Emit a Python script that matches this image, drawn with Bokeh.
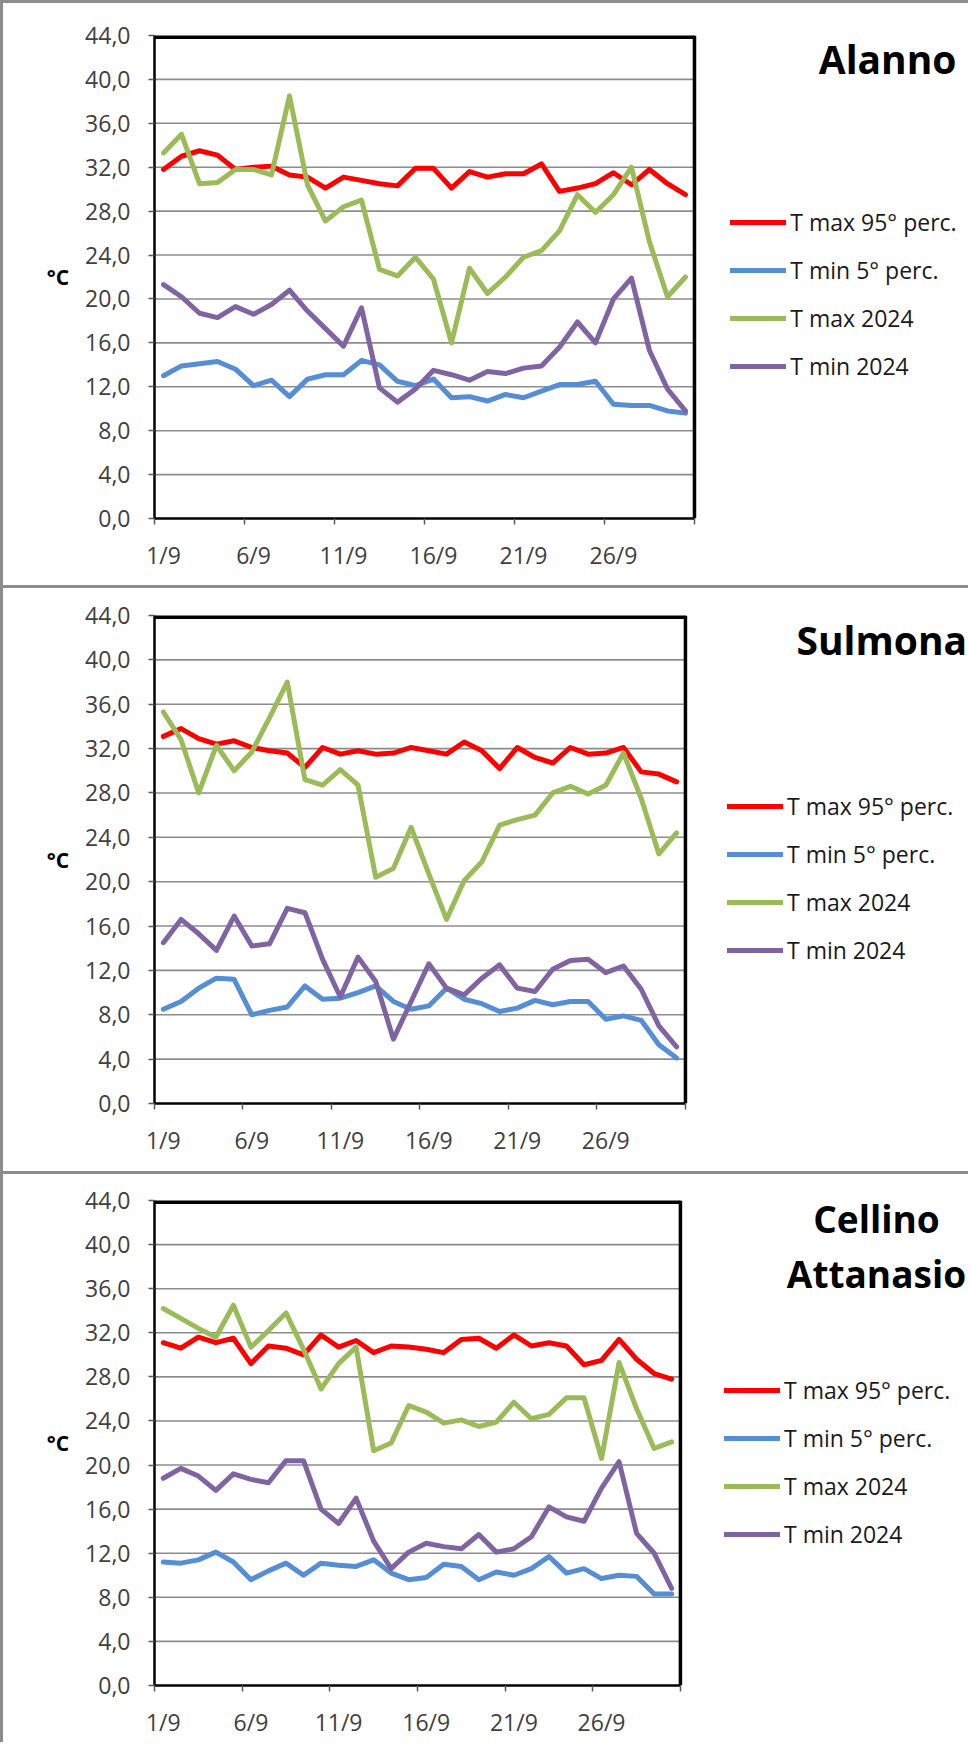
from bokeh.plotting import figure
from bokeh.models import Range1d, FixedTicker, Label, Legend, LegendItem
from bokeh.layouts import column
from bokeh.embed import file_html
from bokeh.resources import INLINE

# ---------------- data ----------------
days = list(range(1, 31))
x_label_days = [1, 6, 11, 16, 21, 26]
x_labels = ["1/9", "6/9", "11/9", "16/9", "21/9", "26/9"]
y_ticks = [0, 4, 8, 12, 16, 20, 24, 28, 32, 36, 40, 44]
y_tick_labels = ["0,0", "4,0", "8,0", "12,0", "16,0", "20,0", "24,0", "28,0", "32,0", "36,0", "40,0", "44,0"]
series_names = ["T max 95° perc.", "T min 5° perc.", "T max 2024", "T min 2024"]

alanno_tmax95 = [31.8, 33.0, 33.5, 33.1, 31.8, 32.0, 32.1, 31.3, 31.1, 30.1, 31.1, 30.8, 30.5, 30.3, 31.9,
                 31.9, 30.1, 31.6, 31.1, 31.4, 31.4, 32.3, 29.8, 30.1, 30.5, 31.5, 30.4, 31.8, 30.5, 29.5]
alanno_tmin5 = [13.0, 13.9, 14.1, 14.3, 13.6, 12.1, 12.6, 11.1, 12.7, 13.1, 13.1, 14.4, 14.0, 12.5, 12.1,
                12.7, 11.0, 11.1, 10.7, 11.3, 11.0, 11.6, 12.2, 12.2, 12.5, 10.4, 10.3, 10.3, 9.8, 9.6]
alanno_tmax2024 = [33.3, 35.0, 30.5, 30.6, 31.8, 31.8, 31.3, 38.5, 30.4, 27.1, 28.4, 29.0, 22.7, 22.1, 23.8,
                   21.8, 16.0, 22.8, 20.5, 22.0, 23.8, 24.4, 26.2, 29.5, 27.9, 29.5, 32.0, 25.2, 20.2, 22.0]
alanno_tmin2024 = [21.3, 20.2, 18.7, 18.3, 19.3, 18.6, 19.5, 20.8, 18.9, 17.3, 15.7, 19.2, 11.9, 10.6, 11.8,
                   13.5, 13.1, 12.6, 13.4, 13.2, 13.7, 13.9, 15.6, 17.9, 16.0, 20.0, 21.9, 15.3, 11.8, 9.8]

sulmona_tmax95 = [33.1, 33.8, 32.9, 32.4, 32.7, 32.1, 31.8, 31.6, 30.3, 32.1, 31.5, 31.8, 31.5, 31.6, 32.1,
                  31.8, 31.5, 32.6, 31.8, 30.2, 32.1, 31.2, 30.7, 32.1, 31.5, 31.6, 32.1, 29.9, 29.7, 29.0]
sulmona_tmin5 = [8.5, 9.2, 10.4, 11.3, 11.2, 8.0, 8.4, 8.7, 10.6, 9.4, 9.5, 10.0, 10.6, 9.2, 8.5,
                 8.8, 10.4, 9.4, 9.0, 8.3, 8.6, 9.3, 8.9, 9.2, 9.2, 7.6, 7.9, 7.5, 5.3, 4.1]
sulmona_tmax2024 = [35.3, 32.8, 28.0, 32.3, 30.0, 31.7, 34.8, 38.0, 29.2, 28.7, 30.1, 28.7, 20.4, 21.2, 24.9,
                    20.7, 16.6, 20.1, 21.8, 25.1, 25.6, 26.0, 28.0, 28.6, 27.9, 28.7, 31.6, 27.5, 22.5, 24.4]
sulmona_tmin2024 = [14.5, 16.6, 15.3, 13.8, 16.9, 14.2, 14.4, 17.6, 17.2, 13.0, 9.6, 13.2, 11.0, 5.8, 9.2,
                    12.6, 10.4, 9.8, 11.3, 12.5, 10.4, 10.1, 12.1, 12.9, 13.0, 11.8, 12.4, 10.3, 7.0, 5.1]

cellino_tmax95 = [31.1, 30.6, 31.6, 31.1, 31.5, 29.2, 30.8, 30.6, 30.0, 31.8, 30.7, 31.3, 30.2, 30.8, 30.7,
                  30.5, 30.2, 31.4, 31.5, 30.6, 31.8, 30.8, 31.1, 30.8, 29.1, 29.5, 31.4, 29.6, 28.3, 27.8]
cellino_tmin5 = [11.2, 11.1, 11.4, 12.1, 11.2, 9.6, 10.4, 11.1, 10.0, 11.1, 10.9, 10.8, 11.4, 10.2, 9.6,
                 9.8, 11.0, 10.8, 9.6, 10.3, 10.0, 10.6, 11.7, 10.2, 10.6, 9.7, 10.0, 9.9, 8.3, 8.3]
cellino_tmax2024 = [34.2, 33.3, 32.4, 31.6, 34.5, 30.7, 32.2, 33.8, 30.5, 26.9, 29.2, 30.7, 21.3, 22.0, 25.4,
                    24.8, 23.8, 24.1, 23.5, 23.9, 25.7, 24.2, 24.6, 26.1, 26.1, 20.6, 29.3, 25.1, 21.5, 22.1]
cellino_tmin2024 = [18.8, 19.7, 19.0, 17.7, 19.2, 18.7, 18.4, 20.4, 20.4, 16.0, 14.7, 17.0, 13.1, 10.6, 12.1,
                    12.9, 12.6, 12.4, 13.7, 12.1, 12.4, 13.5, 16.2, 15.3, 14.9, 17.9, 20.3, 13.8, 12.0, 8.8]

# ---------------- style ----------------
COLORS = ["#FF0000", "#558ED5", "#9BBB59", "#8064A2"]
FONT = "Open Sans"
GRID = "#8c8c8c"
PANEL_BORDER = "#8c8c8c"
CONTENT_W = 965


def make_panel(series, titles, geom):
    x0 = days[0] - 0.5
    x1 = days[-1] + 0.5
    frame_w = CONTENT_W - geom["left"]
    # the frame also covers the legend/title area on the right of the plot area
    x_end = x0 + (x1 - x0) * frame_w / geom["pw"]
    p = figure(frame_width=frame_w, frame_height=geom["fh"],
               min_border_left=geom["left"], min_border_right=0,
               min_border_top=geom["top"], min_border_bottom=geom["bottom"],
               x_range=Range1d(x0, x_end), y_range=Range1d(y_ticks[0], y_ticks[-1]),
               output_backend="svg", toolbar_location=None, tools="")
    p.styles = {"border-left": "3px solid " + PANEL_BORDER, "border-top": "3px solid " + PANEL_BORDER,
                "box-sizing": "content-box"}
    p.background_fill_color = "white"
    p.border_fill_color = "white"
    p.outline_line_color = None
    p.xgrid.visible = False
    p.ygrid.visible = False

    # y axis
    ya = p.yaxis[0]
    ya.ticker = FixedTicker(ticks=y_ticks)
    ya.major_label_overrides = {t: l for t, l in zip(y_ticks, y_tick_labels)}
    ya.axis_line_color = "black"
    ya.axis_line_width = 2.5
    ya.major_tick_out = 6
    ya.major_tick_in = 0
    ya.major_tick_line_color = "#595959"
    ya.major_tick_line_width = 1.5
    ya.minor_tick_out = 0
    ya.minor_tick_in = 0
    ya.major_label_standoff = 18
    ya.major_label_text_font = FONT
    ya.major_label_text_font_size = "23px"
    ya.major_label_text_color = "#404040"
    ya.axis_label = "°C"
    ya.axis_label_text_font = FONT
    ya.axis_label_text_font_size = "21px"
    ya.axis_label_text_font_style = "bold"
    ya.axis_label_text_color = "black"
    ya.axis_label_standoff = 13
    try:
        ya.axis_label_orientation = "horizontal"
    except Exception:
        pass

    # x axis: labels centred on days, minor ticks on day boundaries
    xa = p.xaxis[0]
    xa.ticker = FixedTicker(ticks=x_label_days,
                            minor_ticks=[d - 0.5 for d in x_label_days] + [x1])
    xa.major_label_overrides = {d: l for d, l in zip(x_label_days, x_labels)}
    xa.bounds = (x0, x1)
    xa.axis_line_color = "black"
    xa.axis_line_width = 2.5
    xa.major_tick_out = 0
    xa.major_tick_in = 0
    xa.minor_tick_out = 6
    xa.minor_tick_in = 0
    xa.minor_tick_line_color = "#595959"
    xa.minor_tick_line_width = 1.5
    xa.major_label_standoff = 14
    xa.major_label_text_font = FONT
    xa.major_label_text_font_size = "23px"
    xa.major_label_text_color = "#404040"

    # horizontal gridlines limited to the plot area
    inner = y_ticks[1:-1]
    p.segment(x0=[x0] * len(inner), x1=[x1] * len(inner), y0=inner, y1=inner,
              line_color=GRID, line_width=1.6)
    # plot-area border (top and right)
    p.line([x0, x1], [y_ticks[-1], y_ticks[-1]], line_color="black", line_width=7)
    p.line([x1, x1], [y_ticks[0], y_ticks[-1]], line_color="black", line_width=3.5)

    items = []
    for name, vals, col in zip(series_names, series, COLORS):
        r = p.line(days, vals, line_color=col, line_width=5, line_join="round", line_cap="round")
        items.append(LegendItem(label=name, renderers=[r]))

    leg = Legend(items=items, location=geom["legend"], orientation="vertical",
                 glyph_width=56, glyph_height=20, label_height=20, spacing=16,
                 padding=0, margin=0, label_standoff=4,
                 border_line_color=None, background_fill_alpha=0,
                 label_text_font=FONT, label_text_font_size="23px", label_text_color="#1a1a1a")
    p.add_layout(leg)

    for (tx, ty, txt, align, size) in titles:
        p.add_layout(Label(x=tx, y=ty, x_units="screen", y_units="screen", text=txt,
                           text_font=FONT, text_font_size=size, text_font_style="bold",
                           text_align=align, text_baseline="alphabetic", text_color="black"))
    return p


p1 = make_panel([alanno_tmax95, alanno_tmin5, alanno_tmax2024, alanno_tmin2024],
                [(802, 460, "Alanno", "right", "39px")],
                dict(pw=538, fh=480, left=145, top=32, bottom=70, legend=(606, 136)))
p2 = make_panel([sulmona_tmax95, sulmona_tmin5, sulmona_tmax2024, sulmona_tmin2024],
                [(642, 464, "Sulmona", "left", "39px")],
                dict(pw=529, fh=485, left=147, top=27, bottom=71, legend=(602, 137)))
p3 = make_panel([cellino_tmax95, cellino_tmin5, cellino_tmax2024, cellino_tmin2024],
                [(722, 467, "Cellino", "center", "37px"), (722, 412, "Attanasio", "center", "37px")],
                dict(pw=524, fh=482, left=151, top=26, bottom=60, legend=(570, 135)))

layout = column(p1, p2, p3, spacing=0)
open("out.html", "w").write(file_html(layout, INLINE))
